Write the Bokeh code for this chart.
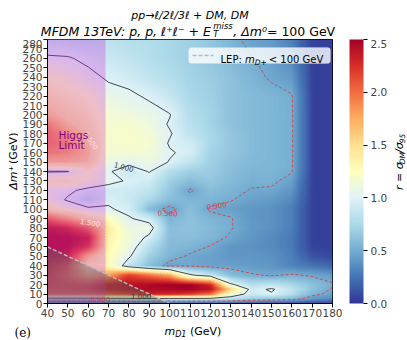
import numpy as np
from bokeh.plotting import figure
from bokeh.layouts import column, row
from bokeh.models import (LinearColorMapper, ColorBar, FixedTicker, PrintfTickFormatter,
                          Label, BoxAnnotation, Arrow, Range1d, ColumnDataSource)
from bokeh.core.properties import value
from bokeh.embed import file_html
from bokeh.resources import INLINE

# ---------------- data ----------------
m_D1 = [40, 50, 60, 70, 80, 90, 100, 110, 120, 130, 140, 150, 160, 170, 180]
dm_plus = [0, 5, 10, 15, 20, 30, 40, 50, 60, 70, 80, 90, 100, 110, 120, 130, 140,
           150, 160, 170, 180, 190, 200, 220, 240, 260, 280]

# r = sigma_DM / sigma_95, one list per m_D1 column, ordered as dm_plus
r_m40 = [0.12, 0.85, 2.00, 2.10, 2.15, 2.20, 2.30, 2.40, 2.45, 2.45, 2.40, 2.00, 1.40, 1.15, 1.10, 1.30, 0.98, 1.60, 1.85, 1.95, 1.95, 1.85, 1.60, 1.40, 1.25, 1.03, 0.85]
r_m50 = [0.12, 0.85, 2.00, 2.10, 2.10, 2.00, 2.10, 2.35, 2.45, 2.45, 2.30, 1.75, 1.20, 0.97, 1.05, 1.35, 0.99, 1.60, 1.80, 1.85, 1.75, 1.55, 1.45, 1.32, 1.18, 1.02, 0.82]
r_m60 = [0.12, 0.85, 2.00, 2.15, 2.10, 1.65, 1.35, 1.60, 2.20, 2.35, 2.00, 1.45, 1.05, 0.80, 0.93, 1.20, 1.25, 1.52, 1.58, 1.52, 1.45, 1.40, 1.35, 1.24, 1.06, 0.95, 0.80]
r_m70 = [0.12, 0.88, 2.10, 2.35, 2.35, 1.80, 1.30, 1.28, 1.32, 1.35, 1.40, 1.25, 1.02, 0.97, 0.92, 1.05, 1.02, 1.10, 1.15, 1.18, 1.18, 1.18, 1.15, 1.08, 0.97, 0.90, 0.82]
r_m80 = [0.12, 0.90, 2.20, 2.40, 2.40, 2.20, 0.85, 1.03, 1.12, 1.15, 1.10, 1.02, 0.95, 0.90, 0.92, 0.98, 0.90, 1.05, 1.15, 1.20, 1.20, 1.18, 1.12, 1.04, 0.93, 0.85, 0.80]
r_m90 = [0.12, 0.90, 2.30, 2.45, 2.45, 2.00, 0.60, 0.70, 0.80, 0.95, 1.10, 0.92, 0.58, 0.75, 0.85, 0.92, 1.01, 1.10, 1.15, 1.18, 1.15, 1.12, 1.08, 0.97, 0.85, 0.80, 0.78]
r_m100 = [0.12, 0.90, 2.30, 2.45, 2.50, 1.80, 0.45, 0.55, 0.58, 0.60, 0.60, 0.55, 0.45, 0.60, 0.65, 0.70, 0.80, 0.99, 1.02, 0.98, 1.02, 0.98, 1.01, 0.88, 0.80, 0.75, 0.75]
r_m110 = [0.10, 0.90, 2.20, 2.50, 2.50, 1.05, 0.48, 0.48, 0.55, 0.60, 0.62, 0.62, 0.60, 0.55, 0.48, 0.60, 0.70, 0.85, 0.95, 0.93, 0.85, 0.82, 0.80, 0.75, 0.72, 0.70, 0.70]
r_m120 = [0.10, 0.90, 2.00, 2.40, 2.30, 0.85, 0.45, 0.45, 0.49, 0.56, 0.58, 0.55, 0.48, 0.55, 0.60, 0.65, 0.68, 0.70, 0.72, 0.75, 0.75, 0.72, 0.72, 0.70, 0.68, 0.65, 0.65]
r_m130 = [0.10, 0.85, 1.20, 1.60, 1.05, 0.60, 0.45, 0.40, 0.40, 0.48, 0.51, 0.51, 0.45, 0.51, 0.55, 0.58, 0.60, 0.62, 0.65, 0.65, 0.65, 0.62, 0.62, 0.62, 0.62, 0.58, 0.55]
r_m140 = [0.08, 0.70, 0.90, 0.92, 0.80, 0.52, 0.42, 0.40, 0.38, 0.40, 0.42, 0.40, 0.40, 0.45, 0.49, 0.53, 0.55, 0.57, 0.58, 0.58, 0.58, 0.58, 0.58, 0.58, 0.55, 0.51, 0.45]
r_m150 = [0.08, 0.65, 0.98, 1.03, 0.85, 0.48, 0.40, 0.38, 0.35, 0.35, 0.38, 0.38, 0.38, 0.42, 0.48, 0.53, 0.55, 0.55, 0.55, 0.55, 0.55, 0.55, 0.55, 0.55, 0.48, 0.45, 0.42]
r_m160 = [0.06, 0.60, 0.80, 0.85, 0.75, 0.52, 0.32, 0.30, 0.28, 0.28, 0.30, 0.30, 0.30, 0.35, 0.40, 0.45, 0.51, 0.52, 0.52, 0.52, 0.52, 0.52, 0.52, 0.51, 0.42, 0.35, 0.30]
r_m170 = [0.05, 0.42, 0.55, 0.62, 0.62, 0.48, 0.25, 0.12, 0.06, 0.05, 0.05, 0.05, 0.05, 0.05, 0.05, 0.05, 0.05, 0.05, 0.05, 0.05, 0.05, 0.05, 0.05, 0.05, 0.05, 0.05, 0.05]
r_m180 = [0.04, 0.35, 0.45, 0.48, 0.52, 0.42, 0.20, 0.08, 0.04, 0.04, 0.04, 0.04, 0.04, 0.04, 0.04, 0.04, 0.04, 0.04, 0.04, 0.04, 0.04, 0.04, 0.04, 0.04, 0.04, 0.04, 0.04]

r_columns = [r_m40, r_m50, r_m60, r_m70, r_m80, r_m90, r_m100, r_m110, r_m120,
             r_m130, r_m140, r_m150, r_m160, r_m170, r_m180]

x_ticks = list(range(40, 181, 10))
y_ticks = list(range(0, 281, 10))
cbar_ticks = [0.0, 0.5, 1.0, 1.5, 2.0, 2.5]
r_low, r_high = 0.0, 2.5
higgs_band = [40, 68.5]       # shaded Higgs-limit band in m_D1
lep_mass = 100                # LEP: m_D+ = m_D1 + dm+ < 100 GeV

# contour label annotations
clabel_text = ["1.000", "1.500", "1.500", "0.500", "0.500", "0.500", "1.000"]
clabel_m = [77.5, 61.5, 61.0, 99.0, 123.0, 66.0, 86.0]
clabel_dm = [145, 173, 86, 96, 104, 4.5, 8.0]
clabel_deg = [-15, -55, -10, -3, 8, 0, 0]
clabel_color = ["#333333", "#fbe4e4", "#fbe4e4", "#e03c3c", "#e03c3c", "#e03c3c", "#333333"]

# texts
title_1 = "pp→ℓ/2ℓ/3ℓ + DM, DM"
title_2a = "MFDM 13TeV: p, p, ℓ⁺ℓ⁻ + E"
title_2_sup, title_2_sub = "miss", "T"
title_2c = ", Δm⁰"
title_2d = " = 100 GeV"

FONT = "DejaVu Sans"

# ---------------- colour map (RdYlBu reversed) ----------------
rdylbu_r = ["#313695", "#4575b4", "#74add1", "#abd9e9", "#e0f3f8", "#ffffbf",
            "#fee090", "#fdae61", "#f46d43", "#d73027", "#a50026"]
anch = np.array([[int(c[i:i + 2], 16) for i in (1, 3, 5)] for c in rdylbu_r], float)
pos = np.linspace(0, 1, len(anch))
tt = np.linspace(0, 1, 256)
pal = ["#%02x%02x%02x" % tuple(int(round(np.interp(t, pos, anch[:, k]))) for k in range(3)) for t in tt]
mapper = LinearColorMapper(palette=pal, low=r_low, high=r_high)

# ---------------- smooth (bilinear) shading of the grid ----------------
Z = np.array(r_columns).T
nx, ny = 280, 560
x0, x1 = m_D1[0], m_D1[-1]
y0, y1 = dm_plus[0], dm_plus[-1]
xf = x0 + (np.arange(nx) + 0.5) * (x1 - x0) / nx
yf = y0 + (np.arange(ny) + 0.5) * (y1 - y0) / ny
Zy = np.array([np.interp(yf, dm_plus, col) for col in r_columns]).T
img = np.array([np.interp(xf, m_D1, row_) for row_ in Zy])

# ---------------- text width estimate (DejaVu Sans em widths) ----------------
EM = {" ": .318, ",": .318, ":": .337, ".": .318, "(": .39, ")": .39, "+": .838, "=": .838,
      "<": .838, "/": .337, "→": .838, "Δ": .684, "σ": .602, "ℓ": .42, "⁺": .52, "⁻": .52,
      "⁰": .40, "A": .684, "D": .770, "E": .632, "F": .575, "G": .775, "L": .557, "M": .863,
      "P": .603, "T": .611, "V": .684, "a": .613, "e": .615, "i": .278, "m": .974, "p": .635,
      "r": .411, "s": .521}
for d in "0123456789":
    EM[d] = .636


def tw(s, size):
    return sum(EM.get(ch, .6) for ch in s) * size


def txt(f, s, x, y, size, style="normal", align="left", angle=0.0, font=FONT, color="black"):
    f.text(x=[x], y=[y], text=[s], angle=angle, text_font=value(font),
           text_font_size=f"{size}px", text_font_style=style, text_align=align,
           text_baseline="alphabetic", text_color=color)


def blank_fig(w, h):
    f = figure(width=w, height=h, output_backend="svg", toolbar_location=None,
               x_range=Range1d(0, w), y_range=Range1d(0, h), min_border=0,
               x_axis_location=None, y_axis_location=None)
    f.grid.visible = False
    f.outline_line_color = None
    return f


TOTAL_W = 405
TOP_H = 39
LEFT_W = 18
FW, FH = 285, 264
BL, BR, BB = 29, 56, 18
MID_H = FH + BB
CB_W = TOTAL_W - LEFT_W - (BL + FW + BR)
BOT_H = 340 - TOP_H - MID_H

# ---------------- main figure ----------------
p = figure(frame_width=FW, frame_height=FH, output_backend="svg", toolbar_location=None,
           x_range=Range1d(x0, x1), y_range=Range1d(y0, y1),
           min_border_left=BL, min_border_right=BR, min_border_top=0, min_border_bottom=BB)
p.grid.visible = False
p.outline_line_color = "black"

p.image(image=[img], x=x0, y=y0, dw=x1 - x0, dh=y1 - y0, color_mapper=mapper)

p.contour(m_D1, dm_plus, Z, levels=[0.5], line_color="#e03c3c", line_width=0.9, line_dash="3 2")
p.contour(m_D1, dm_plus, Z, levels=[1.0], line_color="#333333", line_width=0.9)
p.contour(m_D1, dm_plus, Z, levels=[1.5], line_color="#fff4f4", line_width=0.9, line_dash="1 2")

p.quad(left=higgs_band[0], right=higgs_band[1], bottom=y0, top=y1,
       fill_color="#c82adb", fill_alpha=0.3, line_color=None)
tri_m = [x0, x0, lep_mass]
tri_d = [0, lep_mass - x0, 0]
p.patch(tri_m, tri_d, fill_color="#606060", fill_alpha=0.4, line_color=None)
p.line([x0, lep_mass], [lep_mass - x0, 0], line_color="#bbbbbb", line_width=1.4, line_dash="4 2")

src = ColumnDataSource(dict(x=clabel_m, y=clabel_dm, t=clabel_text,
                            a=list(np.deg2rad(clabel_deg)), c=clabel_color))
p.text(x="x", y="y", text="t", angle="a", text_color="c", source=src,
       text_font=value(FONT), text_font_size="7px", text_align="center", text_baseline="middle")

for ax, tks in ((p.xaxis, x_ticks), (p.yaxis, y_ticks)):
    ax.ticker = FixedTicker(ticks=tks, minor_ticks=[])
    ax.major_label_text_font = FONT
    ax.major_label_text_font_size = "10.5px"
    ax.major_tick_out = 4
    ax.major_tick_in = 0
    ax.minor_tick_out = 0
    ax.axis_line_color = "black"
p.xaxis.major_label_standoff = 1
p.yaxis.major_label_standoff = 1

cbar = ColorBar(color_mapper=mapper, ticker=FixedTicker(ticks=cbar_ticks, minor_ticks=[]),
                formatter=PrintfTickFormatter(format="%.1f"), width=14, padding=0, margin=0,
                major_tick_out=4, major_tick_in=0, major_tick_line_color="black",
                major_label_text_font=FONT, major_label_text_font_size="10.5px",
                label_standoff=3, bar_line_color=None, border_line_color=None,
                background_fill_alpha=0, location=(17, 0))
p.add_layout(cbar, "right")


def flab(text, x, y, size, style="normal", color="black"):
    p.add_layout(Label(x=x, y=y, x_units="screen", y_units="screen", text=text,
                       text_font=FONT, text_font_size=f"{size}px", text_font_style=style,
                       text_color=color, text_baseline="alphabetic"))


flab("Higgs", 11, FH - 95, 10.5, color="purple")
flab("Limit", 11, FH - 105, 10.5, color="purple")

# legend (manual, inside the frame)
lt = FH - 8
p.add_layout(BoxAnnotation(left=141, right=283, bottom=lt - 16, top=lt,
                           left_units="screen", right_units="screen",
                           bottom_units="screen", top_units="screen",
                           fill_color="white", fill_alpha=0.8, line_color="#cccccc",
                           line_width=1, border_radius=3))
p.add_layout(Arrow(end=None, x_start=145, y_start=lt - 8, x_end=166, y_end=lt - 8,
                   start_units="screen", end_units="screen",
                   line_color="#bbbbbb", line_width=1.4, line_dash="4 2"))
ls = 10
lx = 173
flab("LEP: ", lx, lt - 12, ls)
flab("m", lx + tw("LEP: ", ls), lt - 12, ls, style="italic")
flab("D+", lx + tw("LEP: m", ls), lt - 14.5, 7.5, style="italic")
flab("< 100 GeV", lx + tw("LEP: m", ls) + tw("D+", 7.5) + 2, lt - 12, ls)

# ---------------- title strip ----------------
top = blank_fig(TOTAL_W, TOP_H)
cx = LEFT_W + BL + FW / 2
txt(top, title_1, cx, TOP_H - 15, 11, style="italic", align="center")
big, small = 12.5, 8.5
total = tw(title_2a, big) + tw(title_2_sup, small) + 1 + tw(title_2c, big) + tw(title_2d, big)
xs = cx - total / 2
base2 = TOP_H - 31
txt(top, title_2a, xs, base2, big, style="italic")
xs += tw(title_2a, big) + 0.5
txt(top, title_2_sup, xs, base2 + 6, small, style="italic")
txt(top, title_2_sub, xs, base2 - 2.5, small, style="italic")
xs += tw(title_2_sup, small) + 0.5
txt(top, title_2c, xs, base2, big, style="italic")
xs += tw(title_2c, big)
txt(top, title_2d, xs, base2, big)

# ---------------- y label strip ----------------
yl = blank_fig(LEFT_W, MID_H)
ymid = MID_H - (170 - TOP_H)
ys = 11
ytot = tw("Δm⁺ ", ys) + tw("(GeV)", ys)
ystart = ymid - ytot / 2
txt(yl, "Δm⁺", 12.5, ystart, ys, style="italic", angle=np.pi / 2)
txt(yl, "(GeV)", 12.5, ystart + tw("Δm⁺ ", ys), ys, angle=np.pi / 2)

# ---------------- colour-bar label strip ----------------
cb = blank_fig(CB_W, MID_H)
cs = 11
cb_parts = [("r = σ", cs, 0), ("DM", 7.5, 2.5), ("/σ", cs, 0), ("95", 7.5, 2.5)]
tot = sum(tw(t, s) for t, s, _ in cb_parts)
yy = ymid - tot / 2
for t, s, dx in cb_parts:
    txt(cb, t, 9 + dx, yy, s, style="italic", angle=np.pi / 2)
    yy += tw(t, s)

# ---------------- bottom strip (x label, panel tag) ----------------
bot = blank_fig(TOTAL_W, BOT_H)
bb = BOT_H - 10
xl = 164
txt(bot, "m", xl, bb, 11, style="italic")
txt(bot, "D1", xl + tw("m", 11), bb - 2.5, 8, style="italic")
txt(bot, "(GeV)", xl + tw("m", 11) + tw("D1", 8) + 3.5, bb, 11)
txt(bot, "(e)", 14, bb - 1, 12, font="DejaVu Serif")

layout = column(top, row(yl, p, cb), bot)
open("out.html", "w").write(file_html(layout, INLINE))
